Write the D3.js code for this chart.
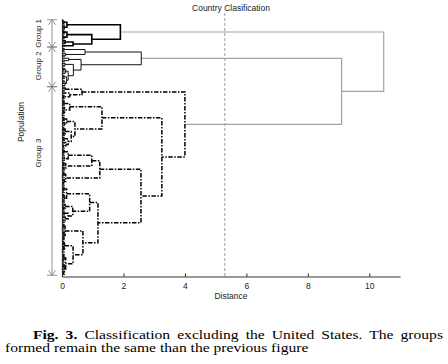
<!DOCTYPE html>
<html>
<head>
<meta charset="utf-8">
<script src="https://cdn.jsdelivr.net/npm/d3@7"></script>
<style>
body { margin: 0; background: #fff; }
svg text { font-family: "Liberation Sans", Arial, sans-serif; fill: #222; }
</style>
</head>
<body>
<svg id="chart" width="448" height="364"></svg>
<script>
// clusters as [merge distance, left, right]; 0 = one country (leaf)
const group1Tree = [1.9,
  [0.16, [0.04, 0, 0], [0.07, 0, 0]],
  [0.97,
    [0.16, [0.05, 0, 0], [0.03, 0, 0]],
    [0.36, [0.1, 0, 0], 0]]];

const group2Tree = [2.58,
  [0.75, [0.05, 0, 0], [0.12, 0, 0]],
  [0.62,
    [0.22, 0, 0],
    [0.37,
      [0.1, 0, 0],
      [0.2, [0.12, [0.05, 0, 0], 0], [0.15, [0.06, 0, 0], [0.1, [0.04, 0, 0], 0]]]]]];

const group3Tree = [4.0,
  [0.65, [0.1, 0, 0], [0.25, 0, [0.05, 0, 0]]],
  [3.25,
    [1.3,
      [0.25, [0.06, [0.03, 0, 0], 0], [0.08, 0, [0.04, 0, [0.02, 0, 0]]]],
      [0.42,
        [0.15, [0.05, 0, 0], [0.08, 0, 0]],
        [0.3, [0.1, [0.04, 0, 0], [0.06, 0, 0]], [0.2, [0.05, 0, 0], [0.12, 0, [0.03, 0, 0]]]]]],
    [2.57,
      [1.23,
        [0.97,
          [0.2, [0.05, 0, [0.03, 0, 0]], [0.08, 0, 0]],
          [0.12, [0.04, 0, 0], [0.06, 0, 0]]],
        [0.12, [0.05, 0, [0.02, 0, 0]], [0.07, 0, [0.03, 0, 0]]]],
      [1.17,
        [0.9,
          [0.15, [0.05, 0, [0.03, 0, 0]], [0.08, [0.04, 0, 0], [0.03, 0, 0]]],
          [0.35, [0.1, 0, [0.05, 0, 0]], [0.2, [0.06, 0, 0], [0.1, 0, [0.03, 0, 0]]]]],
        [0.68,
          [0.1, [0.05, 0, [0.02, 0, 0]], [0.07, [0.03, 0, 0], [0.04, 0, 0]]],
          [0.36,
            [0.08, [0.04, 0, 0], [0.05, 0, [0.02, 0, 0]]],
            [0.12, [0.06, [0.03, 0, 0], [0.02, 0, 0]], [0.08, [0.04, 0, [0.02, 0, 0]], [0.05, 0, 0]]]]]]]]];

const groupNames = ["Group 1", "Group 2", "Group 3"];
// top merges: group 2 with group 3, then group 1 with that
const mergeG2G3 = 9.1;
const mergeRoot = 10.47;
const cutoff = 5.3;
const xTicks = [0, 2, 4, 6, 8, 10];
const titleText = "Country Clasification";
const xLabel = "Distance";
const yLabel = "Population";
const captionBold = "Fig. 3.";
const captionLine1 = " Classification excluding the United States. The groups";
const captionLine2 = "formed remain the same than the previous figure";

const svg = d3.select('#chart');
const groups = [group1Tree, group2Tree, group3Tree];

function countLeaves(n) { return n === 0 ? 1 : countLeaves(n[1]) + countLeaves(n[2]); }
const counts = groups.map(countLeaves);
const nLeaves = d3.sum(counts);

const x = d3.scaleLinear().domain([0, 11]).range([62, 400]);
const y = d3.scaleLinear().domain([-1, nLeaves]).range([18.5, 276.5]);

let leafIdx = 0;
const links = [];
function layout(node, style) {
    if (node === 0) return {h: 0, pos: leafIdx++};
    const a = layout(node[1], style);
    const b = layout(node[2], style);
    links.push({a: a, b: b, h: node[0], style: style});
    return {h: node[0], pos: (a.pos + b.pos) / 2};
}
const roots = groups.map((g, i) => layout(g, 'g' + (i + 1)));
const n23 = {h: mergeG2G3, pos: (roots[1].pos + roots[2].pos) / 2};
links.push({a: roots[1], b: roots[2], h: mergeG2G3, style: 'top'});
links.push({a: roots[0], b: n23, h: mergeRoot, style: 'top'});

const styles = {
    top: {stroke: '#a3a3a3', width: 1.2, dash: null},
    g1: {stroke: '#000', width: 1.6, dash: null},
    g2: {stroke: '#111', width: 1, dash: null},
    g3: {stroke: '#000', width: 1.5, dash: '4.5,1.5,1.5,1.5'}
};

// cutoff line
svg.append('line')
    .attr('x1', x(cutoff)).attr('x2', x(cutoff))
    .attr('y1', 13).attr('y2', y(nLeaves))
    .attr('stroke', '#999').attr('stroke-width', 1)
    .attr('stroke-dasharray', '3,2');

const order = ['top', 'g2', 'g1', 'g3'];
links.sort((p, q) => order.indexOf(p.style) - order.indexOf(q.style));
svg.append('g').selectAll('path')
    .data(links)
    .enter()
    .append('path')
    .attr('d', d => `M${x(d.a.h)},${y(d.a.pos)}H${x(d.h)}V${y(d.b.pos)}H${x(d.b.h)}`)
    .attr('fill', 'none')
    .attr('stroke', d => styles[d.style].stroke)
    .attr('stroke-width', d => styles[d.style].width)
    .attr('stroke-dasharray', d => styles[d.style].dash);

// axes
const xAxis = svg.append('g')
    .attr('transform', `translate(0,${y(nLeaves)})`)
    .call(d3.axisBottom(x).tickValues(xTicks).tickSizeInner(-3).tickSizeOuter(0).tickPadding(6));
const yAxis = svg.append('g')
    .attr('transform', `translate(${x(0)},0)`)
    .call(d3.axisLeft(y).tickValues(d3.range(nLeaves)).tickSizeInner(-3).tickSizeOuter(0).tickFormat(''));
[xAxis, yAxis].forEach(a => {
    a.select('.domain').attr('stroke', '#333').attr('stroke-width', 1.2);
    a.selectAll('.tick line').attr('stroke', '#222');
    a.selectAll('text').attr('font-size', 8.5).attr('fill', '#222')
        .attr('font-family', '"Liberation Sans", Arial, sans-serif');
});

// group brackets
const bx = 52;
const groupLabelShift = [0, -1, -28];
let start = 0;
counts.forEach((c, i) => {
    const top = y(start - 0.5), bot = y(start + c - 0.5);
    const g = svg.append('g').attr('stroke', '#777').attr('stroke-width', 0.8).attr('fill', 'none');
    g.append('line').attr('x1', bx).attr('x2', bx).attr('y1', top).attr('y2', bot);
    g.append('line').attr('x1', bx - 5).attr('x2', bx + 5).attr('y1', top).attr('y2', top);
    g.append('line').attr('x1', bx - 5).attr('x2', bx + 5).attr('y1', bot).attr('y2', bot);
    g.append('polyline').attr('points', `${bx - 3.5},${top + 5} ${bx},${top} ${bx + 3.5},${top + 5}`);
    g.append('polyline').attr('points', `${bx - 3.5},${bot - 5} ${bx},${bot} ${bx + 3.5},${bot - 5}`);
    svg.append('text')
        .attr('transform', `translate(41,${(top + bot) / 2 + groupLabelShift[i]}) rotate(-90)`)
        .attr('text-anchor', 'middle')
        .attr('font-size', 8)
        .text(groupNames[i]);
    start += c;
});

svg.append('text')
    .attr('transform', 'translate(23.5,122) rotate(-90)')
    .attr('text-anchor', 'middle')
    .attr('font-size', 8.5)
    .text(yLabel);

svg.append('text')
    .attr('x', 231).attr('y', 11)
    .attr('text-anchor', 'middle')
    .attr('font-size', 8.5)
    .text(titleText);

svg.append('text')
    .attr('x', 231).attr('y', 299)
    .attr('text-anchor', 'middle')
    .attr('font-size', 8.5)
    .text(xLabel);

// caption (justified first line)
const cap = svg.append('g').attr('transform', 'scale(1.2,1)');
const l1 = cap.append('text')
    .attr('x', 33 / 1.2).attr('y', 339)
    .attr('font-size', 13)
    .style('font-family', '"Liberation Serif", "Times New Roman", serif')
    .style('fill', '#000');
l1.append('tspan').attr('font-weight', 'bold').text(captionBold);
l1.append('tspan').text(captionLine1);
const natural = l1.node().getComputedTextLength();
const gaps = (captionBold + captionLine1).split(' ').length - 1;
l1.attr('word-spacing', ((443 - 33) / 1.2 - natural) / gaps);

cap.append('text')
    .attr('x', 5 / 1.2).attr('y', 352.5)
    .attr('font-size', 13)
    .style('font-family', '"Liberation Serif", "Times New Roman", serif')
    .style('fill', '#000')
    .text(captionLine2);
</script>
</body>
</html>
